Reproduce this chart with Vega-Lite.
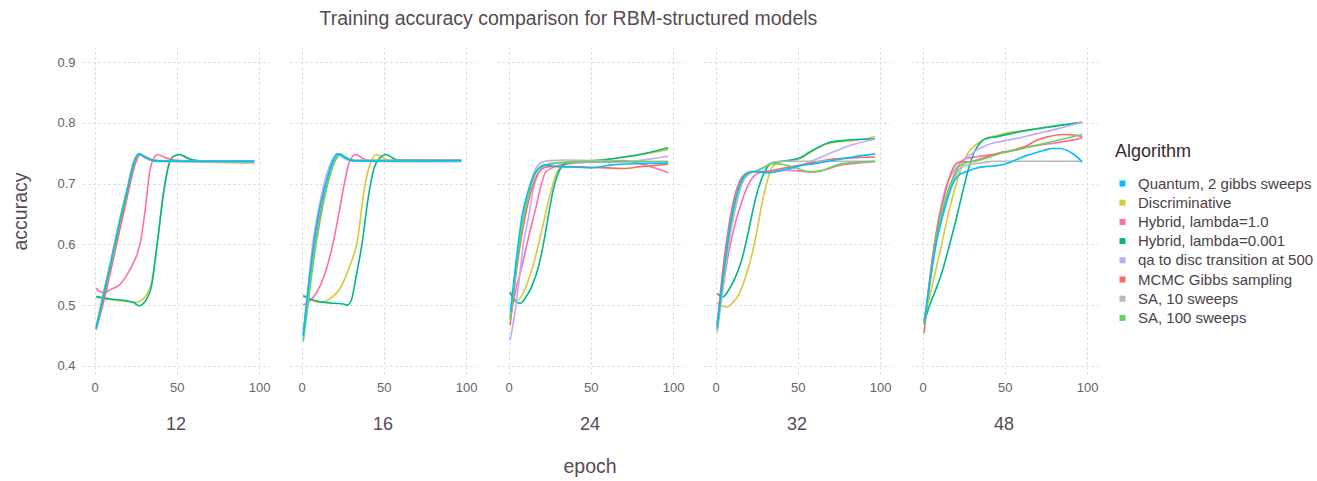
{
"$schema": "https://vega.github.io/schema/vega-lite/v6.json",
"background": "white",
"padding": {"left": 10, "top": 8, "right": 5, "bottom": 0},
"title": {"text": "Training accuracy  comparison for RBM-structured models", "fontSize": 19.5, "fontWeight": "normal", "color": "#564A55", "anchor": "middle", "offset": 18, "dx": -94},
"datasets": {
"algos": [
{"a":"Q","Algorithm":"Quantum, 2 gibbs sweeps"},
{"a":"D","Algorithm":"Discriminative"},
{"a":"H1","Algorithm":"Hybrid, lambda=1.0"},
{"a":"H2","Algorithm":"Hybrid, lambda=0.001"},
{"a":"QA","Algorithm":"qa to disc transition at 500"},
{"a":"M","Algorithm":"MCMC Gibbs sampling"},
{"a":"S10","Algorithm":"SA, 10 sweeps"},
{"a":"S100","Algorithm":"SA, 100 sweeps"}
],
"curves": [
{"n":12,"a":"D","e":1,"y":0.513},{"n":12,"a":"D","e":10,"y":0.509},{"n":12,"a":"D","e":20,"y":0.506},{"n":12,"a":"D","e":25,"y":0.505},{"n":12,"a":"D","e":28,"y":0.507},{"n":12,"a":"D","e":31,"y":0.515},{"n":12,"a":"D","e":34.5,"y":0.535},{"n":12,"a":"D","e":38,"y":0.599},{"n":12,"a":"D","e":42,"y":0.686},{"n":12,"a":"D","e":45,"y":0.73},{"n":12,"a":"D","e":48,"y":0.745},{"n":12,"a":"D","e":51.7,"y":0.748},{"n":12,"a":"D","e":56,"y":0.742},{"n":12,"a":"D","e":60,"y":0.739},{"n":12,"a":"D","e":70,"y":0.737},{"n":12,"a":"D","e":97,"y":0.737},
{"n":12,"a":"H1","e":1,"y":0.528},{"n":12,"a":"H1","e":3,"y":0.523},{"n":12,"a":"H1","e":6,"y":0.521},{"n":12,"a":"H1","e":10,"y":0.526},{"n":12,"a":"H1","e":15,"y":0.533},{"n":12,"a":"H1","e":19,"y":0.547},{"n":12,"a":"H1","e":23,"y":0.566},{"n":12,"a":"H1","e":26,"y":0.585},{"n":12,"a":"H1","e":28,"y":0.605},{"n":12,"a":"H1","e":30.6,"y":0.653},{"n":12,"a":"H1","e":33.5,"y":0.719},{"n":12,"a":"H1","e":36,"y":0.742},{"n":12,"a":"H1","e":38.5,"y":0.748},{"n":12,"a":"H1","e":42,"y":0.744},{"n":12,"a":"H1","e":46,"y":0.74},{"n":12,"a":"H1","e":52,"y":0.738},{"n":12,"a":"H1","e":70,"y":0.737},{"n":12,"a":"H1","e":97,"y":0.737},
{"n":12,"a":"H2","e":1,"y":0.514},{"n":12,"a":"H2","e":10,"y":0.51},{"n":12,"a":"H2","e":20,"y":0.507},{"n":12,"a":"H2","e":24,"y":0.504},{"n":12,"a":"H2","e":27,"y":0.499},{"n":12,"a":"H2","e":29,"y":0.501},{"n":12,"a":"H2","e":32,"y":0.512},{"n":12,"a":"H2","e":34.5,"y":0.53},{"n":12,"a":"H2","e":38,"y":0.599},{"n":12,"a":"H2","e":42,"y":0.686},{"n":12,"a":"H2","e":45,"y":0.73},{"n":12,"a":"H2","e":48,"y":0.745},{"n":12,"a":"H2","e":52,"y":0.748},{"n":12,"a":"H2","e":56,"y":0.743},{"n":12,"a":"H2","e":60,"y":0.739},{"n":12,"a":"H2","e":70,"y":0.737},{"n":12,"a":"H2","e":97,"y":0.737},
{"n":12,"a":"QA","e":1,"y":0.463},{"n":12,"a":"QA","e":5,"y":0.512},{"n":12,"a":"QA","e":10,"y":0.573},{"n":12,"a":"QA","e":15,"y":0.634},{"n":12,"a":"QA","e":20,"y":0.692},{"n":12,"a":"QA","e":24,"y":0.736},{"n":12,"a":"QA","e":27,"y":0.749},{"n":12,"a":"QA","e":31,"y":0.743},{"n":12,"a":"QA","e":36,"y":0.738},{"n":12,"a":"QA","e":97,"y":0.737},
{"n":12,"a":"M","e":1,"y":0.46},{"n":12,"a":"M","e":5,"y":0.5},{"n":12,"a":"M","e":10,"y":0.558},{"n":12,"a":"M","e":15,"y":0.62},{"n":12,"a":"M","e":20,"y":0.68},{"n":12,"a":"M","e":25,"y":0.735},{"n":12,"a":"M","e":28,"y":0.748},{"n":12,"a":"M","e":32,"y":0.743},{"n":12,"a":"M","e":37,"y":0.738},{"n":12,"a":"M","e":50,"y":0.737},{"n":12,"a":"M","e":97,"y":0.736},
{"n":12,"a":"S10","e":1,"y":0.465},{"n":12,"a":"S10","e":5,"y":0.515},{"n":12,"a":"S10","e":10,"y":0.575},{"n":12,"a":"S10","e":15,"y":0.638},{"n":12,"a":"S10","e":20,"y":0.695},{"n":12,"a":"S10","e":24,"y":0.738},{"n":12,"a":"S10","e":27,"y":0.748},{"n":12,"a":"S10","e":31,"y":0.742},{"n":12,"a":"S10","e":36,"y":0.737},{"n":12,"a":"S10","e":50,"y":0.736},{"n":12,"a":"S10","e":97,"y":0.734},
{"n":12,"a":"S100","e":1,"y":0.46},{"n":12,"a":"S100","e":5,"y":0.512},{"n":12,"a":"S100","e":10,"y":0.572},{"n":12,"a":"S100","e":15,"y":0.635},{"n":12,"a":"S100","e":20,"y":0.692},{"n":12,"a":"S100","e":24,"y":0.736},{"n":12,"a":"S100","e":27,"y":0.749},{"n":12,"a":"S100","e":31,"y":0.743},{"n":12,"a":"S100","e":36,"y":0.738},{"n":12,"a":"S100","e":97,"y":0.736},
{"n":12,"a":"Q","e":1,"y":0.462},{"n":12,"a":"Q","e":5,"y":0.51},{"n":12,"a":"Q","e":10,"y":0.57},{"n":12,"a":"Q","e":15,"y":0.632},{"n":12,"a":"Q","e":20,"y":0.69},{"n":12,"a":"Q","e":24,"y":0.735},{"n":12,"a":"Q","e":27,"y":0.749},{"n":12,"a":"Q","e":31,"y":0.743},{"n":12,"a":"Q","e":36,"y":0.738},{"n":12,"a":"Q","e":45,"y":0.737},{"n":12,"a":"Q","e":60,"y":0.737},{"n":12,"a":"Q","e":80,"y":0.737},{"n":12,"a":"Q","e":97,"y":0.737},

{"n":16,"a":"D","e":1,"y":0.517},{"n":16,"a":"D","e":5,"y":0.51},{"n":16,"a":"D","e":10,"y":0.505},{"n":16,"a":"D","e":13,"y":0.505},{"n":16,"a":"D","e":18,"y":0.512},{"n":16,"a":"D","e":23.3,"y":0.527},{"n":16,"a":"D","e":26.5,"y":0.545},{"n":16,"a":"D","e":29.4,"y":0.565},{"n":16,"a":"D","e":33.5,"y":0.6},{"n":16,"a":"D","e":38.7,"y":0.7},{"n":16,"a":"D","e":42,"y":0.735},{"n":16,"a":"D","e":45.8,"y":0.748},{"n":16,"a":"D","e":49.5,"y":0.743},{"n":16,"a":"D","e":53,"y":0.738},{"n":16,"a":"D","e":97,"y":0.738},
{"n":16,"a":"H1","e":1,"y":0.5},{"n":16,"a":"H1","e":5,"y":0.507},{"n":16,"a":"H1","e":9,"y":0.52},{"n":16,"a":"H1","e":14,"y":0.55},{"n":16,"a":"H1","e":19,"y":0.6},{"n":16,"a":"H1","e":23,"y":0.655},{"n":16,"a":"H1","e":26,"y":0.7},{"n":16,"a":"H1","e":29,"y":0.735},{"n":16,"a":"H1","e":33,"y":0.748},{"n":16,"a":"H1","e":37,"y":0.742},{"n":16,"a":"H1","e":41,"y":0.738},{"n":16,"a":"H1","e":97,"y":0.738},
{"n":16,"a":"H2","e":1,"y":0.515},{"n":16,"a":"H2","e":5,"y":0.51},{"n":16,"a":"H2","e":13,"y":0.505},{"n":16,"a":"H2","e":20,"y":0.503},{"n":16,"a":"H2","e":25.4,"y":0.502},{"n":16,"a":"H2","e":27.8,"y":0.5},{"n":16,"a":"H2","e":30.5,"y":0.51},{"n":16,"a":"H2","e":33,"y":0.545},{"n":16,"a":"H2","e":36.6,"y":0.598},{"n":16,"a":"H2","e":40.7,"y":0.68},{"n":16,"a":"H2","e":44,"y":0.725},{"n":16,"a":"H2","e":47.5,"y":0.742},{"n":16,"a":"H2","e":51.5,"y":0.748},{"n":16,"a":"H2","e":55,"y":0.743},{"n":16,"a":"H2","e":58,"y":0.739},{"n":16,"a":"H2","e":97,"y":0.738},
{"n":16,"a":"QA","e":1,"y":0.452},{"n":16,"a":"QA","e":3,"y":0.505},{"n":16,"a":"QA","e":5,"y":0.556},{"n":16,"a":"QA","e":7,"y":0.605},{"n":16,"a":"QA","e":10,"y":0.652},{"n":16,"a":"QA","e":14,"y":0.703},{"n":16,"a":"QA","e":18,"y":0.735},{"n":16,"a":"QA","e":21.5,"y":0.749},{"n":16,"a":"QA","e":25,"y":0.744},{"n":16,"a":"QA","e":30,"y":0.738},{"n":16,"a":"QA","e":97,"y":0.738},
{"n":16,"a":"M","e":1,"y":0.45},{"n":16,"a":"M","e":3,"y":0.495},{"n":16,"a":"M","e":5,"y":0.54},{"n":16,"a":"M","e":8,"y":0.6},{"n":16,"a":"M","e":11,"y":0.645},{"n":16,"a":"M","e":15.5,"y":0.7},{"n":16,"a":"M","e":19,"y":0.73},{"n":16,"a":"M","e":23,"y":0.749},{"n":16,"a":"M","e":27,"y":0.743},{"n":16,"a":"M","e":32,"y":0.738},{"n":16,"a":"M","e":97,"y":0.738},
{"n":16,"a":"S10","e":1,"y":0.448},{"n":16,"a":"S10","e":3,"y":0.498},{"n":16,"a":"S10","e":5,"y":0.548},{"n":16,"a":"S10","e":7.5,"y":0.6},{"n":16,"a":"S10","e":10,"y":0.643},{"n":16,"a":"S10","e":15,"y":0.7},{"n":16,"a":"S10","e":18.5,"y":0.73},{"n":16,"a":"S10","e":22.5,"y":0.748},{"n":16,"a":"S10","e":26,"y":0.742},{"n":16,"a":"S10","e":31,"y":0.737},{"n":16,"a":"S10","e":97,"y":0.736},
{"n":16,"a":"S100","e":1,"y":0.44},{"n":16,"a":"S100","e":3,"y":0.48},{"n":16,"a":"S100","e":5,"y":0.525},{"n":16,"a":"S100","e":8,"y":0.585},{"n":16,"a":"S100","e":11,"y":0.635},{"n":16,"a":"S100","e":16,"y":0.7},{"n":16,"a":"S100","e":20,"y":0.735},{"n":16,"a":"S100","e":24,"y":0.748},{"n":16,"a":"S100","e":28,"y":0.742},{"n":16,"a":"S100","e":33,"y":0.738},{"n":16,"a":"S100","e":97,"y":0.738},
{"n":16,"a":"Q","e":1,"y":0.45},{"n":16,"a":"Q","e":3,"y":0.5},{"n":16,"a":"Q","e":5,"y":0.55},{"n":16,"a":"Q","e":7.4,"y":0.6},{"n":16,"a":"Q","e":10,"y":0.645},{"n":16,"a":"Q","e":14.7,"y":0.7},{"n":16,"a":"Q","e":18,"y":0.73},{"n":16,"a":"Q","e":22,"y":0.749},{"n":16,"a":"Q","e":26,"y":0.743},{"n":16,"a":"Q","e":31,"y":0.738},{"n":16,"a":"Q","e":50,"y":0.737},{"n":16,"a":"Q","e":97,"y":0.738},

{"n":24,"a":"D","e":1,"y":0.519},{"n":24,"a":"D","e":5.3,"y":0.508},{"n":24,"a":"D","e":9,"y":0.52},{"n":24,"a":"D","e":12.4,"y":0.544},{"n":24,"a":"D","e":15.5,"y":0.57},{"n":24,"a":"D","e":18.5,"y":0.604},{"n":24,"a":"D","e":21.5,"y":0.638},{"n":24,"a":"D","e":24.6,"y":0.675},{"n":24,"a":"D","e":27.5,"y":0.705},{"n":24,"a":"D","e":30.7,"y":0.725},{"n":24,"a":"D","e":36.8,"y":0.737},{"n":24,"a":"D","e":50,"y":0.738},{"n":24,"a":"D","e":63,"y":0.741},{"n":24,"a":"D","e":75,"y":0.745},{"n":24,"a":"D","e":83,"y":0.749},{"n":24,"a":"D","e":97,"y":0.756},
{"n":24,"a":"H1","e":1,"y":0.478},{"n":24,"a":"H1","e":4,"y":0.52},{"n":24,"a":"H1","e":8.3,"y":0.566},{"n":24,"a":"H1","e":12,"y":0.61},{"n":24,"a":"H1","e":16.5,"y":0.659},{"n":24,"a":"H1","e":20,"y":0.7},{"n":24,"a":"H1","e":22.6,"y":0.719},{"n":24,"a":"H1","e":26.6,"y":0.726},{"n":24,"a":"H1","e":32,"y":0.731},{"n":24,"a":"H1","e":45,"y":0.735},{"n":24,"a":"H1","e":60,"y":0.737},{"n":24,"a":"H1","e":70,"y":0.738},{"n":24,"a":"H1","e":80,"y":0.733},{"n":24,"a":"H1","e":90,"y":0.725},{"n":24,"a":"H1","e":97,"y":0.718},
{"n":24,"a":"H2","e":1,"y":0.522},{"n":24,"a":"H2","e":3,"y":0.51},{"n":24,"a":"H2","e":5,"y":0.505},{"n":24,"a":"H2","e":7.3,"y":0.503},{"n":24,"a":"H2","e":10,"y":0.511},{"n":24,"a":"H2","e":14,"y":0.53},{"n":24,"a":"H2","e":18.5,"y":0.566},{"n":24,"a":"H2","e":21.5,"y":0.605},{"n":24,"a":"H2","e":24.6,"y":0.653},{"n":24,"a":"H2","e":27,"y":0.688},{"n":24,"a":"H2","e":29.7,"y":0.714},{"n":24,"a":"H2","e":34.8,"y":0.733},{"n":24,"a":"H2","e":45,"y":0.737},{"n":24,"a":"H2","e":53,"y":0.738},{"n":24,"a":"H2","e":63,"y":0.741},{"n":24,"a":"H2","e":73,"y":0.745},{"n":24,"a":"H2","e":85,"y":0.751},{"n":24,"a":"H2","e":97,"y":0.759},
{"n":24,"a":"QA","e":1,"y":0.442},{"n":24,"a":"QA","e":4,"y":0.49},{"n":24,"a":"QA","e":6.3,"y":0.538},{"n":24,"a":"QA","e":9,"y":0.6},{"n":24,"a":"QA","e":12.4,"y":0.648},{"n":24,"a":"QA","e":15,"y":0.69},{"n":24,"a":"QA","e":18.5,"y":0.719},{"n":24,"a":"QA","e":22,"y":0.73},{"n":24,"a":"QA","e":24.6,"y":0.733},{"n":24,"a":"QA","e":35,"y":0.735},{"n":24,"a":"QA","e":50,"y":0.735},{"n":24,"a":"QA","e":70,"y":0.736},{"n":24,"a":"QA","e":85,"y":0.74},{"n":24,"a":"QA","e":97,"y":0.745},
{"n":24,"a":"M","e":1,"y":0.467},{"n":24,"a":"M","e":5,"y":0.56},{"n":24,"a":"M","e":9,"y":0.63},{"n":24,"a":"M","e":13,"y":0.68},{"n":24,"a":"M","e":17,"y":0.712},{"n":24,"a":"M","e":21.5,"y":0.726},{"n":24,"a":"M","e":25,"y":0.728},{"n":24,"a":"M","e":35,"y":0.728},{"n":24,"a":"M","e":50,"y":0.727},{"n":24,"a":"M","e":60,"y":0.726},{"n":24,"a":"M","e":70,"y":0.725},{"n":24,"a":"M","e":80,"y":0.728},{"n":24,"a":"M","e":97,"y":0.732},
{"n":24,"a":"S10","e":1,"y":0.48},{"n":24,"a":"S10","e":4,"y":0.55},{"n":24,"a":"S10","e":8,"y":0.63},{"n":24,"a":"S10","e":12,"y":0.685},{"n":24,"a":"S10","e":16,"y":0.722},{"n":24,"a":"S10","e":20,"y":0.735},{"n":24,"a":"S10","e":25,"y":0.738},{"n":24,"a":"S10","e":35,"y":0.739},{"n":24,"a":"S10","e":50,"y":0.738},{"n":24,"a":"S10","e":70,"y":0.737},{"n":24,"a":"S10","e":97,"y":0.737},
{"n":24,"a":"S100","e":1,"y":0.475},{"n":24,"a":"S100","e":4,"y":0.545},{"n":24,"a":"S100","e":8,"y":0.625},{"n":24,"a":"S100","e":12,"y":0.68},{"n":24,"a":"S100","e":16,"y":0.715},{"n":24,"a":"S100","e":20,"y":0.728},{"n":24,"a":"S100","e":25,"y":0.732},{"n":24,"a":"S100","e":35,"y":0.735},{"n":24,"a":"S100","e":50,"y":0.736},{"n":24,"a":"S100","e":70,"y":0.736},{"n":24,"a":"S100","e":97,"y":0.736},
{"n":24,"a":"Q","e":1.2,"y":0.489},{"n":24,"a":"Q","e":4.3,"y":0.566},{"n":24,"a":"Q","e":8.3,"y":0.648},{"n":24,"a":"Q","e":12.4,"y":0.692},{"n":24,"a":"Q","e":16.5,"y":0.719},{"n":24,"a":"Q","e":20,"y":0.729},{"n":24,"a":"Q","e":22.6,"y":0.731},{"n":24,"a":"Q","e":27,"y":0.729},{"n":24,"a":"Q","e":33,"y":0.728},{"n":24,"a":"Q","e":42,"y":0.727},{"n":24,"a":"Q","e":50,"y":0.726},{"n":24,"a":"Q","e":63,"y":0.731},{"n":24,"a":"Q","e":80,"y":0.733},{"n":24,"a":"Q","e":97,"y":0.734},

{"n":32,"a":"D","e":1,"y":0.505},{"n":32,"a":"D","e":3,"y":0.5},{"n":32,"a":"D","e":6.7,"y":0.497},{"n":32,"a":"D","e":10,"y":0.503},{"n":32,"a":"D","e":13.8,"y":0.516},{"n":32,"a":"D","e":17.5,"y":0.54},{"n":32,"a":"D","e":22,"y":0.582},{"n":32,"a":"D","e":25,"y":0.62},{"n":32,"a":"D","e":28,"y":0.664},{"n":32,"a":"D","e":31,"y":0.7},{"n":32,"a":"D","e":34,"y":0.725},{"n":32,"a":"D","e":37,"y":0.733},{"n":32,"a":"D","e":40,"y":0.736},{"n":32,"a":"D","e":46,"y":0.738},{"n":32,"a":"D","e":52,"y":0.742},{"n":32,"a":"D","e":57,"y":0.75},{"n":32,"a":"D","e":62.6,"y":0.76},{"n":32,"a":"D","e":70,"y":0.767},{"n":32,"a":"D","e":80,"y":0.77},{"n":32,"a":"D","e":90,"y":0.773},{"n":32,"a":"D","e":97,"y":0.778},
{"n":32,"a":"H1","e":1,"y":0.47},{"n":32,"a":"H1","e":4,"y":0.52},{"n":32,"a":"H1","e":7.7,"y":0.582},{"n":32,"a":"H1","e":12,"y":0.635},{"n":32,"a":"H1","e":15.9,"y":0.67},{"n":32,"a":"H1","e":19,"y":0.693},{"n":32,"a":"H1","e":22,"y":0.708},{"n":32,"a":"H1","e":25,"y":0.716},{"n":32,"a":"H1","e":28,"y":0.719},{"n":32,"a":"H1","e":35,"y":0.721},{"n":32,"a":"H1","e":42.3,"y":0.722},{"n":32,"a":"H1","e":50,"y":0.721},{"n":32,"a":"H1","e":58.5,"y":0.719},{"n":32,"a":"H1","e":65,"y":0.722},{"n":32,"a":"H1","e":77,"y":0.731},{"n":32,"a":"H1","e":87,"y":0.734},{"n":32,"a":"H1","e":97,"y":0.736},
{"n":32,"a":"H2","e":1,"y":0.519},{"n":32,"a":"H2","e":4.7,"y":0.514},{"n":32,"a":"H2","e":8,"y":0.525},{"n":32,"a":"H2","e":11.8,"y":0.544},{"n":32,"a":"H2","e":16,"y":0.575},{"n":32,"a":"H2","e":19.9,"y":0.62},{"n":32,"a":"H2","e":23,"y":0.66},{"n":32,"a":"H2","e":26,"y":0.692},{"n":32,"a":"H2","e":29,"y":0.715},{"n":32,"a":"H2","e":32,"y":0.729},{"n":32,"a":"H2","e":34,"y":0.734},{"n":32,"a":"H2","e":40,"y":0.737},{"n":32,"a":"H2","e":46,"y":0.739},{"n":32,"a":"H2","e":52.4,"y":0.744},{"n":32,"a":"H2","e":57,"y":0.752},{"n":32,"a":"H2","e":62.6,"y":0.76},{"n":32,"a":"H2","e":68,"y":0.767},{"n":32,"a":"H2","e":77,"y":0.771},{"n":32,"a":"H2","e":87,"y":0.773},{"n":32,"a":"H2","e":97,"y":0.774},
{"n":32,"a":"QA","e":1,"y":0.462},{"n":32,"a":"QA","e":4,"y":0.525},{"n":32,"a":"QA","e":8,"y":0.605},{"n":32,"a":"QA","e":12,"y":0.66},{"n":32,"a":"QA","e":16,"y":0.7},{"n":32,"a":"QA","e":20,"y":0.715},{"n":32,"a":"QA","e":24,"y":0.72},{"n":32,"a":"QA","e":30,"y":0.72},{"n":32,"a":"QA","e":40,"y":0.721},{"n":32,"a":"QA","e":46,"y":0.724},{"n":32,"a":"QA","e":52.4,"y":0.73},{"n":32,"a":"QA","e":60,"y":0.739},{"n":32,"a":"QA","e":68.7,"y":0.749},{"n":32,"a":"QA","e":76,"y":0.757},{"n":32,"a":"QA","e":83,"y":0.764},{"n":32,"a":"QA","e":90,"y":0.769},{"n":32,"a":"QA","e":97,"y":0.773},
{"n":32,"a":"M","e":1,"y":0.468},{"n":32,"a":"M","e":3.5,"y":0.535},{"n":32,"a":"M","e":7.5,"y":0.62},{"n":32,"a":"M","e":11.5,"y":0.678},{"n":32,"a":"M","e":15,"y":0.706},{"n":32,"a":"M","e":18,"y":0.716},{"n":32,"a":"M","e":22,"y":0.72},{"n":32,"a":"M","e":30,"y":0.72},{"n":32,"a":"M","e":40,"y":0.725},{"n":32,"a":"M","e":50,"y":0.73},{"n":32,"a":"M","e":60,"y":0.735},{"n":32,"a":"M","e":70,"y":0.74},{"n":32,"a":"M","e":80,"y":0.742},{"n":32,"a":"M","e":97,"y":0.744},
{"n":32,"a":"S10","e":1,"y":0.455},{"n":32,"a":"S10","e":4,"y":0.515},{"n":32,"a":"S10","e":8,"y":0.6},{"n":32,"a":"S10","e":12,"y":0.66},{"n":32,"a":"S10","e":16,"y":0.7},{"n":32,"a":"S10","e":20,"y":0.716},{"n":32,"a":"S10","e":24,"y":0.72},{"n":32,"a":"S10","e":30,"y":0.728},{"n":32,"a":"S10","e":36,"y":0.736},{"n":32,"a":"S10","e":45,"y":0.737},{"n":32,"a":"S10","e":97,"y":0.737},
{"n":32,"a":"S100","e":1,"y":0.46},{"n":32,"a":"S100","e":4,"y":0.53},{"n":32,"a":"S100","e":8,"y":0.615},{"n":32,"a":"S100","e":12,"y":0.672},{"n":32,"a":"S100","e":16,"y":0.705},{"n":32,"a":"S100","e":20,"y":0.717},{"n":32,"a":"S100","e":24,"y":0.72},{"n":32,"a":"S100","e":29,"y":0.726},{"n":32,"a":"S100","e":34,"y":0.733},{"n":32,"a":"S100","e":42,"y":0.731},{"n":32,"a":"S100","e":50,"y":0.725},{"n":32,"a":"S100","e":56,"y":0.72},{"n":32,"a":"S100","e":62.6,"y":0.72},{"n":32,"a":"S100","e":70,"y":0.727},{"n":32,"a":"S100","e":77,"y":0.733},{"n":32,"a":"S100","e":97,"y":0.737},
{"n":32,"a":"Q","e":1,"y":0.464},{"n":32,"a":"Q","e":3.7,"y":0.527},{"n":32,"a":"Q","e":7.7,"y":0.61},{"n":32,"a":"Q","e":11.8,"y":0.67},{"n":32,"a":"Q","e":15,"y":0.7},{"n":32,"a":"Q","e":17.9,"y":0.714},{"n":32,"a":"Q","e":22,"y":0.72},{"n":32,"a":"Q","e":27,"y":0.719},{"n":32,"a":"Q","e":32,"y":0.718},{"n":32,"a":"Q","e":40,"y":0.722},{"n":32,"a":"Q","e":50.4,"y":0.729},{"n":32,"a":"Q","e":60,"y":0.733},{"n":32,"a":"Q","e":68.7,"y":0.737},{"n":32,"a":"Q","e":83,"y":0.744},{"n":32,"a":"Q","e":97,"y":0.749},

{"n":48,"a":"D","e":1,"y":0.476},{"n":48,"a":"D","e":4,"y":0.51},{"n":48,"a":"D","e":7.8,"y":0.555},{"n":48,"a":"D","e":12,"y":0.605},{"n":48,"a":"D","e":16,"y":0.654},{"n":48,"a":"D","e":20,"y":0.695},{"n":48,"a":"D","e":24,"y":0.73},{"n":48,"a":"D","e":28,"y":0.752},{"n":48,"a":"D","e":32,"y":0.763},{"n":48,"a":"D","e":38.5,"y":0.775},{"n":48,"a":"D","e":45,"y":0.779},{"n":48,"a":"D","e":52,"y":0.784},{"n":48,"a":"D","e":60,"y":0.787},{"n":48,"a":"D","e":70,"y":0.791},{"n":48,"a":"D","e":83,"y":0.796},{"n":48,"a":"D","e":97,"y":0.801},
{"n":48,"a":"H1","e":1,"y":0.47},{"n":48,"a":"H1","e":4,"y":0.53},{"n":48,"a":"H1","e":8,"y":0.598},{"n":48,"a":"H1","e":12,"y":0.65},{"n":48,"a":"H1","e":16,"y":0.69},{"n":48,"a":"H1","e":20,"y":0.72},{"n":48,"a":"H1","e":23,"y":0.735},{"n":48,"a":"H1","e":26,"y":0.741},{"n":48,"a":"H1","e":30,"y":0.743},{"n":48,"a":"H1","e":40,"y":0.747},{"n":48,"a":"H1","e":48.7,"y":0.751},{"n":48,"a":"H1","e":56,"y":0.755},{"n":48,"a":"H1","e":63,"y":0.76},{"n":48,"a":"H1","e":70,"y":0.763},{"n":48,"a":"H1","e":83,"y":0.768},{"n":48,"a":"H1","e":97,"y":0.775},
{"n":48,"a":"H2","e":1,"y":0.47},{"n":48,"a":"H2","e":3.7,"y":0.495},{"n":48,"a":"H2","e":8,"y":0.525},{"n":48,"a":"H2","e":11.9,"y":0.555},{"n":48,"a":"H2","e":16,"y":0.595},{"n":48,"a":"H2","e":20,"y":0.637},{"n":48,"a":"H2","e":24,"y":0.682},{"n":48,"a":"H2","e":28,"y":0.725},{"n":48,"a":"H2","e":32,"y":0.755},{"n":48,"a":"H2","e":36.4,"y":0.771},{"n":48,"a":"H2","e":40,"y":0.775},{"n":48,"a":"H2","e":44.6,"y":0.777},{"n":48,"a":"H2","e":52.8,"y":0.782},{"n":48,"a":"H2","e":60,"y":0.786},{"n":48,"a":"H2","e":69,"y":0.79},{"n":48,"a":"H2","e":83.4,"y":0.796},{"n":48,"a":"H2","e":97,"y":0.801},
{"n":48,"a":"QA","e":1,"y":0.47},{"n":48,"a":"QA","e":4,"y":0.53},{"n":48,"a":"QA","e":7.8,"y":0.61},{"n":48,"a":"QA","e":11,"y":0.66},{"n":48,"a":"QA","e":13.9,"y":0.692},{"n":48,"a":"QA","e":20,"y":0.725},{"n":48,"a":"QA","e":25,"y":0.738},{"n":48,"a":"QA","e":30,"y":0.75},{"n":48,"a":"QA","e":38.5,"y":0.763},{"n":48,"a":"QA","e":48.7,"y":0.77},{"n":48,"a":"QA","e":58,"y":0.775},{"n":48,"a":"QA","e":69,"y":0.782},{"n":48,"a":"QA","e":83,"y":0.791},{"n":48,"a":"QA","e":97,"y":0.801},
{"n":48,"a":"M","e":1,"y":0.454},{"n":48,"a":"M","e":3,"y":0.51},{"n":48,"a":"M","e":5.7,"y":0.572},{"n":48,"a":"M","e":8.5,"y":0.62},{"n":48,"a":"M","e":11.9,"y":0.664},{"n":48,"a":"M","e":15,"y":0.698},{"n":48,"a":"M","e":18,"y":0.722},{"n":48,"a":"M","e":21,"y":0.734},{"n":48,"a":"M","e":24,"y":0.736},{"n":48,"a":"M","e":28,"y":0.736},{"n":48,"a":"M","e":32,"y":0.738},{"n":48,"a":"M","e":40,"y":0.745},{"n":48,"a":"M","e":48.7,"y":0.752},{"n":48,"a":"M","e":56,"y":0.756},{"n":48,"a":"M","e":63,"y":0.762},{"n":48,"a":"M","e":69,"y":0.771},{"n":48,"a":"M","e":76,"y":0.777},{"n":48,"a":"M","e":85.5,"y":0.781},{"n":48,"a":"M","e":92,"y":0.78},{"n":48,"a":"M","e":97,"y":0.777},
{"n":48,"a":"S10","e":1,"y":0.468},{"n":48,"a":"S10","e":4,"y":0.525},{"n":48,"a":"S10","e":8,"y":0.598},{"n":48,"a":"S10","e":12,"y":0.648},{"n":48,"a":"S10","e":16,"y":0.688},{"n":48,"a":"S10","e":20,"y":0.713},{"n":48,"a":"S10","e":22,"y":0.722},{"n":48,"a":"S10","e":26,"y":0.73},{"n":48,"a":"S10","e":32,"y":0.733},{"n":48,"a":"S10","e":38,"y":0.735},{"n":48,"a":"S10","e":42.6,"y":0.737},{"n":48,"a":"S10","e":60,"y":0.737},{"n":48,"a":"S10","e":97,"y":0.737},
{"n":48,"a":"S100","e":1,"y":0.468},{"n":48,"a":"S100","e":4,"y":0.53},{"n":48,"a":"S100","e":8,"y":0.605},{"n":48,"a":"S100","e":12,"y":0.655},{"n":48,"a":"S100","e":16,"y":0.693},{"n":48,"a":"S100","e":20,"y":0.717},{"n":48,"a":"S100","e":22,"y":0.728},{"n":48,"a":"S100","e":26,"y":0.734},{"n":48,"a":"S100","e":32,"y":0.737},{"n":48,"a":"S100","e":40,"y":0.743},{"n":48,"a":"S100","e":48.7,"y":0.751},{"n":48,"a":"S100","e":60,"y":0.757},{"n":48,"a":"S100","e":69,"y":0.763},{"n":48,"a":"S100","e":83,"y":0.772},{"n":48,"a":"S100","e":97,"y":0.781},
{"n":48,"a":"Q","e":1,"y":0.473},{"n":48,"a":"Q","e":3.5,"y":0.52},{"n":48,"a":"Q","e":5.7,"y":0.56},{"n":48,"a":"Q","e":8.5,"y":0.605},{"n":48,"a":"Q","e":11.9,"y":0.643},{"n":48,"a":"Q","e":15,"y":0.673},{"n":48,"a":"Q","e":18,"y":0.697},{"n":48,"a":"Q","e":22,"y":0.714},{"n":48,"a":"Q","e":27,"y":0.72},{"n":48,"a":"Q","e":32,"y":0.725},{"n":48,"a":"Q","e":38,"y":0.728},{"n":48,"a":"Q","e":42.6,"y":0.729},{"n":48,"a":"Q","e":48.7,"y":0.731},{"n":48,"a":"Q","e":53,"y":0.735},{"n":48,"a":"Q","e":59,"y":0.742},{"n":48,"a":"Q","e":64,"y":0.747},{"n":48,"a":"Q","e":69,"y":0.751},{"n":48,"a":"Q","e":74,"y":0.755},{"n":48,"a":"Q","e":79,"y":0.758},{"n":48,"a":"Q","e":84,"y":0.758},{"n":48,"a":"Q","e":87.5,"y":0.755},{"n":48,"a":"Q","e":92,"y":0.748},{"n":48,"a":"Q","e":97,"y":0.736}
]
},
"data": {"name": "curves"},
"transform": [{"lookup": "a", "from": {"data": {"name": "algos"}, "key": "a", "fields": ["Algorithm"]}}],
"facet": {"column": {"field": "n", "type": "ordinal", "title": "epoch", "header": {"labelOrient": "bottom", "titleOrient": "bottom", "labelPadding": 22, "titlePadding": 14}}},
"spacing": 21,
"spec": {
"width": 186,
"height": 328,
"mark": {"type": "line", "interpolate": "monotone", "strokeWidth": 1.6},
"encoding": {
"x": {"field": "e", "type": "quantitative", "scale": {"domain": [-7, 106], "nice": false, "zero": false}, "axis": {"title": null, "values": [0, 50, 100], "labelPadding": 6}},
"y": {"field": "y", "type": "quantitative", "scale": {"domain": [0.385, 0.925], "nice": false, "zero": false}, "axis": {"title": "accuracy", "values": [0.4, 0.5, 0.6, 0.7, 0.8, 0.9], "format": ".1f", "labelPadding": 8, "titlePadding": 26}},
"color": {"field": "Algorithm", "type": "nominal",
"scale": {"domain": ["Quantum, 2 gibbs sweeps", "Discriminative", "Hybrid, lambda=1.0", "Hybrid, lambda=0.001", "qa to disc transition at 500", "MCMC Gibbs sampling", "SA, 10 sweeps", "SA, 100 sweeps"],
"range": ["#00BFFF", "#D4CA3A", "#FF6DAE", "#00B78D", "#BEA9FF", "#FE6A5E", "#B8B8B8", "#63D367"]},
"legend": {"orient": "none", "legendX": 1032, "legendY": 96}}
}
},
"config": {
"font": "Liberation Sans",
"view": {"stroke": null},
"axis": {"grid": true, "gridColor": "#D0D0E0", "gridDash": [2, 3], "gridWidth": 1, "domain": false, "ticks": false, "labelFontSize": 13, "labelColor": "#6C606B", "titleFontSize": 19.5, "titleFontWeight": "normal", "titleColor": "#564A55"},
"header": {"labelFontSize": 18, "labelColor": "#564A55", "titleFontSize": 19.5, "titleFontWeight": "normal", "titleColor": "#564A55"},
"legend": {"titleFontSize": 18, "titleFontWeight": "normal", "titleColor": "#362A35", "labelFontSize": 15, "labelColor": "#4C404B", "labelLimit": 300, "symbolType": "square", "symbolSize": 9, "symbolStrokeWidth": 3, "rowPadding": 3.2, "titlePadding": 15, "labelOffset": 8}
}
}
